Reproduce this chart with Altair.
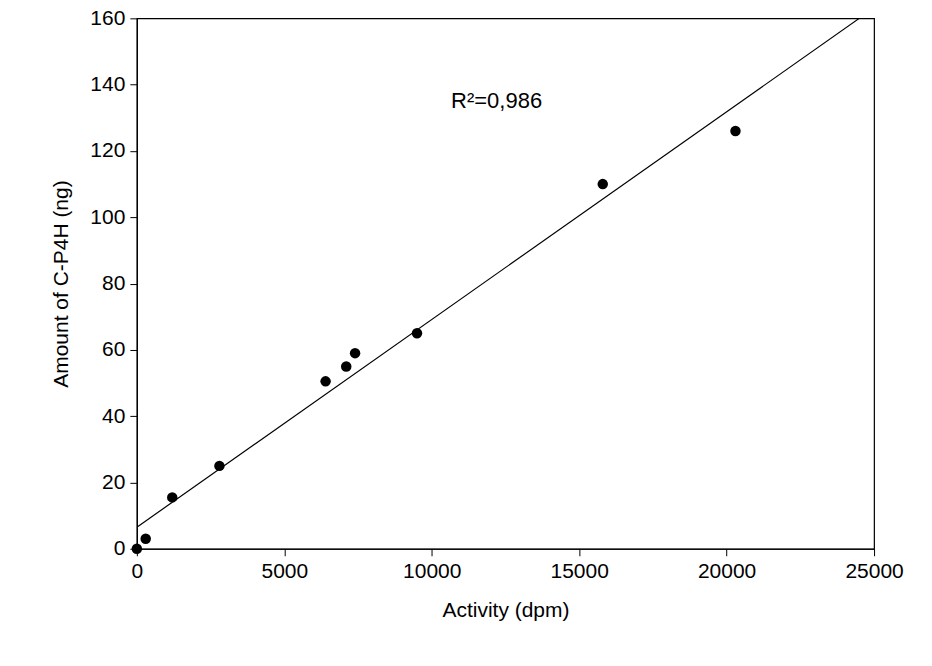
import altair as alt
import pandas as pd

activity = [0, 300, 1200, 2800, 6400, 7100, 7400, 9500, 15800, 20300]
amount = [0, 3, 15.5, 25, 50.5, 55, 59, 65, 110, 126]
fit_x = [0, 24500]
fit_y = [6.5, 160]

pts = pd.DataFrame({"x": activity, "y": amount})
fit = pd.DataFrame({"x": fit_x, "y": fit_y})
lab = pd.DataFrame({"x": [12200], "y": [135], "t": ["R²=0,986"]})

xs = alt.Scale(domain=[0, 25000], nice=False)
ys = alt.Scale(domain=[0, 160], nice=False)
xa = alt.Axis(values=list(range(0, 25001, 5000)), format="d", title="Activity (dpm)", grid=False,
              labelFontSize=21, titleFontSize=21, tickSize=7, labelPadding=5,
              titlePadding=18, titleFontWeight="normal", labelFlush=False)
ya = alt.Axis(values=list(range(0, 161, 20)), title="Amount of C-P4H (ng)", grid=False,
              labelFontSize=21, titleFontSize=21, tickSize=7, labelPadding=5,
              titlePadding=18, titleFontWeight="normal", labelFlush=False)

line = alt.Chart(fit).mark_line(color="black", strokeWidth=1.2, clip=True).encode(
    x=alt.X("x:Q", scale=xs, axis=xa), y=alt.Y("y:Q", scale=ys, axis=ya))
dots = alt.Chart(pts).mark_circle(color="black", size=110, opacity=1).encode(
    x=alt.X("x:Q", scale=xs), y=alt.Y("y:Q", scale=ys))
text = alt.Chart(lab).mark_text(fontSize=22, color="black").encode(
    x=alt.X("x:Q", scale=xs), y=alt.Y("y:Q", scale=ys), text="t:N")

chart = (line + dots + text).properties(
    width=738, height=531, padding={"left": 129, "top": 10, "right": 50, "bottom": 100},
    autosize=alt.AutoSizeParams(type="none"), background="white"
).configure_view(stroke="black", strokeWidth=1.2).configure_axis(
    domainColor="black", tickColor="black", labelColor="black", titleColor="black",
    labelFont="Liberation Sans", titleFont="Liberation Sans", domainWidth=1.2
).configure_text(font="Liberation Sans")

chart.save("out.html", embed_options={"renderer": "svg", "actions": False})
